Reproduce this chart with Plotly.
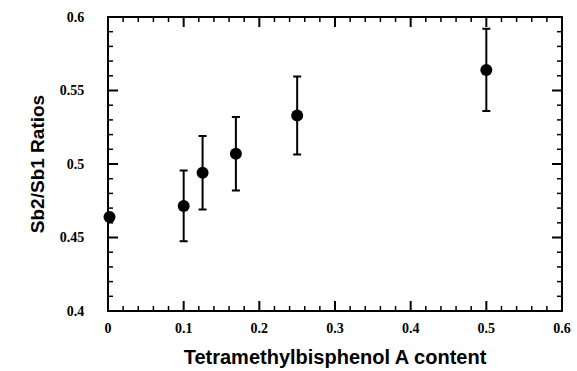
import numpy as np
import plotly.graph_objects as go

# Tetramethylbisphenol A content vs. Sb2/Sb1 ratio
tmbpa_content = [0.002, 0.100, 0.125, 0.169, 0.250, 0.500]
sb_ratio = [0.464, 0.4715, 0.494, 0.507, 0.533, 0.564]
ratio_err = [0.0, 0.024, 0.025, 0.025, 0.0265, 0.028]

x_range = [0, 0.6]
y_range = [0.4, 0.6]
x_major, x_minor = 0.1, 0.02
y_major, y_minor = 0.05, 0.01

INK = "black"
tick_font = dict(family="Liberation Serif", size=14, color=INK, weight="bold")

fig = go.Figure(
    go.Scatter(
        x=tmbpa_content,
        y=sb_ratio,
        mode="markers",
        marker=dict(size=12, color=INK),
        error_y=dict(type="data", array=ratio_err, visible=True,
                     color=INK, thickness=2, width=4),
        cliponaxis=False,
        showlegend=False,
    )
)

# frame around the plotting area
fig.add_shape(type="rect", xref="x domain", yref="y domain",
              x0=0, x1=1, y0=0, y1=1, line=dict(color=INK, width=2),
              layer="above")


def add_ticks(values, axis, length, width):
    """Inward ticks on both opposite edges, sized in pixels."""
    for v in values:
        if axis == "x":
            for anchor, sign in [(0, 1), (1, -1)]:
                fig.add_shape(type="line", xref="x", yref="y domain",
                              x0=v, x1=v, ysizemode="pixel", yanchor=anchor,
                              y0=0, y1=sign * length,
                              line=dict(color=INK, width=width), layer="above")
        else:
            for anchor, sign in [(0, 1), (1, -1)]:
                fig.add_shape(type="line", yref="y", xref="x domain",
                              y0=v, y1=v, xsizemode="pixel", xanchor=anchor,
                              x0=0, x1=sign * length,
                              line=dict(color=INK, width=width), layer="above")


x_major_vals = np.round(np.arange(x_range[0], x_range[1] + 1e-9, x_major), 3)
x_minor_vals = np.round(np.arange(x_range[0], x_range[1] + 1e-9, x_minor), 3)
y_major_vals = np.round(np.arange(y_range[0], y_range[1] + 1e-9, y_major), 3)
y_minor_vals = np.round(np.arange(y_range[0], y_range[1] + 1e-9, y_minor), 3)

add_ticks([v for v in x_minor_vals if v not in x_major_vals], "x", 5, 1.5)
add_ticks(x_major_vals, "x", 10, 2)
add_ticks([v for v in y_minor_vals if v not in y_major_vals], "y", 5, 1.5)
add_ticks(y_major_vals, "y", 10, 2)

fig.update_layout(
    width=577, height=371,
    margin=dict(l=108, r=6, t=17, b=54),
    plot_bgcolor="white", paper_bgcolor="white",
    xaxis=dict(
        range=x_range, dtick=x_major, tick0=0,
        ticks="outside", ticklen=4, tickcolor="rgba(0,0,0,0)",
        showline=False, showgrid=False, zeroline=False,
        ticklabeloverflow="allow", tickfont=tick_font,
        title=dict(text="Tetramethylbisphenol A content",
                   font=dict(family="Liberation Sans", size=20, color=INK,
                             weight="bold")),
    ),
    yaxis=dict(
        range=y_range, dtick=y_major, tick0=0.4,
        ticks="outside", ticklen=20, tickcolor="rgba(0,0,0,0)",
        showline=False, showgrid=False, zeroline=False,
        tickfont=tick_font,
        title=dict(text="Sb2/Sb1 Ratios",
                   font=dict(family="Liberation Sans", size=19, color=INK,
                             weight="bold"),
                   standoff=10),
    ),
)

fig.write_html("out.html")
